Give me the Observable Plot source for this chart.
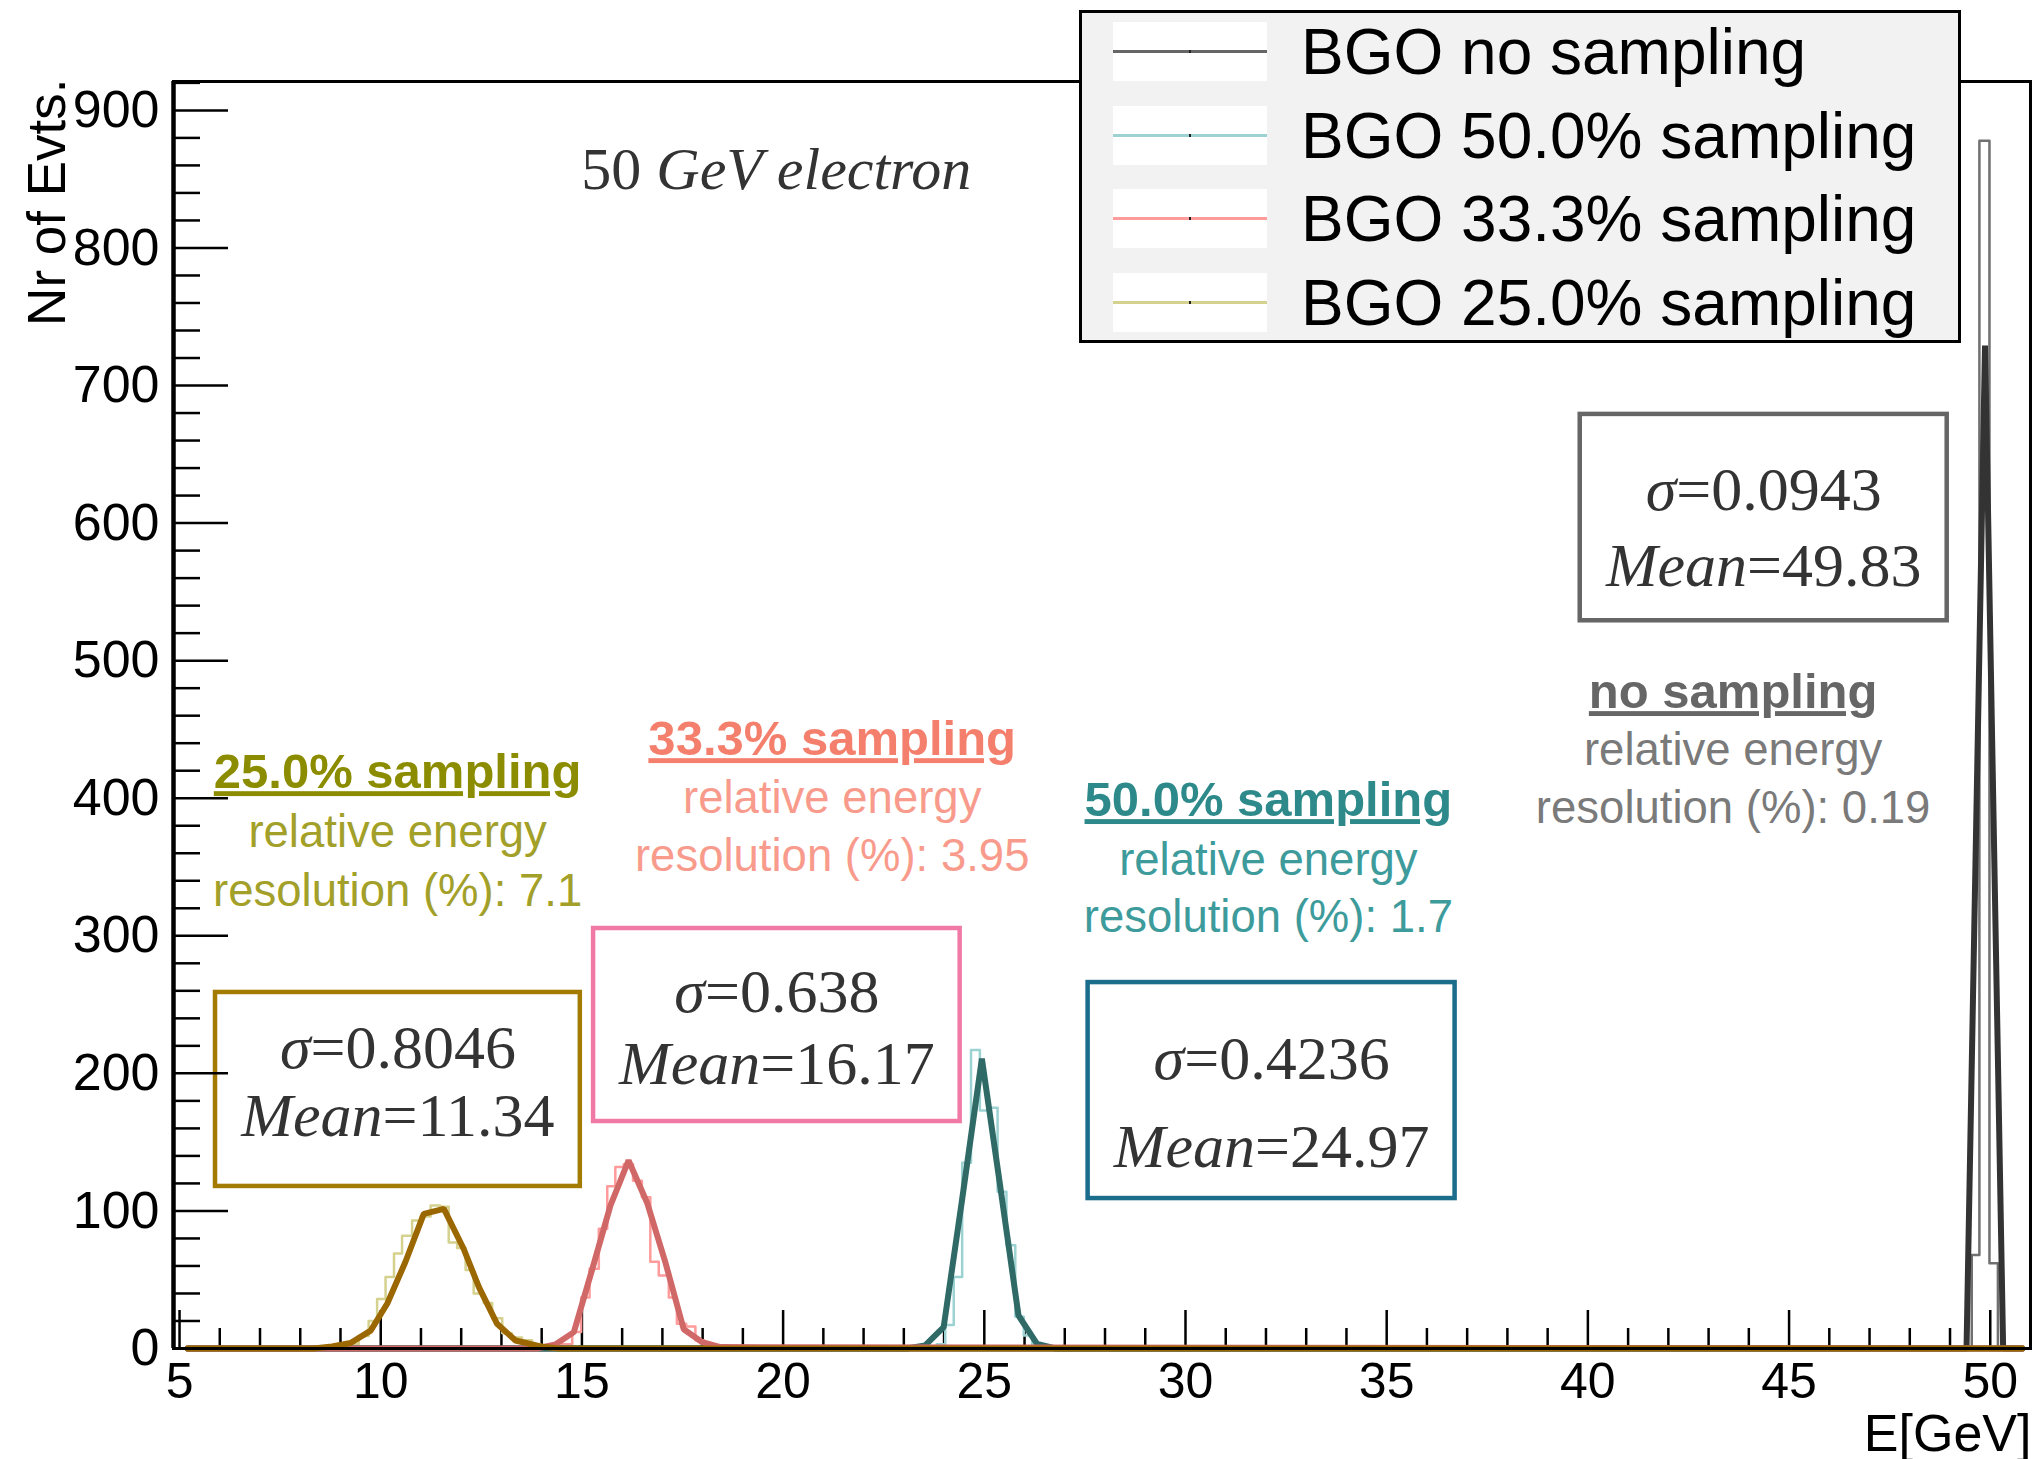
<!DOCTYPE html>
<html>
<head>
<meta charset="utf-8">
<script src="https://cdn.jsdelivr.net/npm/d3@7"></script>
<script src="https://cdn.jsdelivr.net/npm/@observablehq/plot@0.6"></script>
<style>
  html, body { margin: 0; padding: 0; background: #fff; }
  #wrap { position: relative; width: 2039px; height: 1459px; }
  .ul text { text-decoration: underline; }
  #legend { position: absolute; left: 1079px; top: 10px; width: 876px; height: 327px;
    border: 3px solid #000; background: #f2f2f2; font-family: "Liberation Sans", Arial, sans-serif; }
  .lrow { position: absolute; left: 0; width: 100%; }
  .lsample { position: absolute; left: 31px; width: 154px; height: 59px; background: #fff; }
  .lline { position: absolute; left: 0; width: 100%; top: 28px; height: 3px; }
  .ldot { position: absolute; left: 76px; top: 28px; width: 2px; height: 3px; background: #222; }
  .ltext { position: absolute; left: 219px; font-size: 64px; line-height: 60px; color: #000; white-space: nowrap; }
</style>
</head>
<body>
<div id="wrap"></div>
<script>
// ---------------- data ----------------
// axis ticks
const xTicks = [5, 10, 15, 20, 25, 30, 35, 40, 45, 50];
const yTicks = [0, 100, 200, 300, 400, 500, 600, 700, 800, 900];

// series names / legend
const seriesNames = ["BGO no sampling", "BGO 50.0% sampling", "BGO 33.3% sampling", "BGO 25.0% sampling"];

// thin step histograms (bin edges + counts)
const greyEdges = [49.54, 49.73, 49.98, 50.19];
const greyCounts = [68, 878, 62];

const tealEdges = [23.82, 24.03, 24.24, 24.45, 24.67, 24.89, 25.11, 25.33, 25.55, 25.77, 25.98, 26.19, 26.40];
const tealCounts = [3, 17, 52, 135, 217, 173, 175, 114, 75, 23, 9.5, 2];

const pinkEdges = [14.50, 14.76, 14.98, 15.19, 15.42, 15.63, 15.83, 16.04, 16.27, 16.49, 16.70, 16.91, 17.16, 17.36, 17.59, 17.82, 18.03, 18.23];
const pinkCounts = [3, 12, 37, 58, 87, 118, 132, 134, 122, 110, 63, 53, 37, 18, 16, 6, 2];

const yelEdges = [9.00, 9.23, 9.455, 9.70, 9.91, 10.12, 10.33, 10.53, 10.78, 10.99, 11.24, 11.48, 11.69, 11.90, 12.11, 12.31, 12.56, 12.77, 13.02, 13.26, 13.51, 13.76, 13.97];
const yelCounts = [1, 3, 9, 20, 36, 52, 69, 82, 93, 96, 104, 103, 77, 73, 57, 40, 33, 22, 11, 8, 6, 3];

// thick poly-lines (bin centres + values)
const blackX = [5.2, 48.95, 49.41, 49.87, 50.32, 50.8];
const blackY = [0, 0, 0, 729, 0, 0];

const tealLineX = [5.2, 23.07, 23.53, 23.99, 24.445, 24.94, 25.40, 25.85, 26.31, 26.77, 50.8];
const tealLineY = [0, 0, 2.2, 15.5, 107.6, 210.6, 117, 24, 3.4, 0, 0];

const redLineX = [5.2, 13.88, 14.34, 14.80, 15.25, 15.71, 16.16, 16.62, 17.08, 17.53, 17.99, 18.44, 50.8];
const redLineY = [0, 0, 2.9, 11.9, 57, 104, 136.7, 106, 62, 14, 4.6, 1, 0];

const goldLineX = [5.2, 8.33, 8.79, 9.25, 9.75, 10.16, 10.61, 11.07, 11.57, 12.06, 12.44, 12.89, 13.35, 13.97, 14.43, 50.8];
const goldLineY = [0, 0, 1.5, 4, 13, 32.5, 62.7, 97.9, 101.5, 72.5, 44.6, 18, 5.8, 1.5, 0, 0];

// fit results
const sigmaText = ["σ=0.0943", "σ=0.4236", "σ=0.638", "σ=0.8046"];
const meanText = ["Mean=49.83", "Mean=24.97", "Mean=16.17", "Mean=11.34"];
const samplingTitle = ["no sampling", "50.0% sampling", "33.3% sampling", "25.0% sampling"];
const resolutionText = ["resolution (%): 0.19", "resolution (%): 1.7", "resolution (%): 3.95", "resolution (%): 7.1"];

// ---------------- styling / layout ----------------
const thinColors = ["#707070", "#9dd2d2", "#ff9b9b", "#d5d18e"];
const thickColors = ["#333333", "#2f6a66", "#d16868", "#9a6700"];
const boxColors = ["#666666", "#1a6d8b", "#f07aa5", "#a37b00"];
const titleColors = ["#666666", "#2e8a8a", "#f47f6c", "#8c8c00"];
const noteColors = ["#7a7a7a", "#3d9b9b", "#f99b8c", "#a3a02a"];
const legendColors = ["#666666", "#9dd2d2", "#ff9b9b", "#d5d18e"];

// annotation placement (data units)
const boxes = [
  {x1: 39.81, x2: 48.93, y1: 529, y2: 679, sy: 623.7, my: 568.5},
  {x1: 27.58, x2: 36.70, y1: 109, y2: 266, sy: 210, my: 146},
  {x1: 15.29, x2: 24.40, y1: 165, y2: 305.3, sy: 258.8, my: 206.5},
  {x1: 5.894, x2: 14.96, y1: 117.8, y2: 258.8, sy: 218, my: 168.7}
];
const notePos = [
  {x: 43.61, y: [476.9, 434.7, 392.6]},
  {x: 32.06, y: [398.4, 354.8, 313.3]},
  {x: 21.22, y: [442.7, 399.8, 357.7]},
  {x: 10.42, y: [418.7, 375, 332]}
];

const W = 2039, H = 1459;
const mL = 173, mR = 9, mT = 81, mB = 111;
const xDomain = [4.85, 51];
const yDomain = [0, 921];
const frameW = W - mL - mR, frameH = H - mT - mB;

function stepPoints(edges, counts) {
  const pts = [{x: xDomain[0] + 0.15, y: 0}];
  counts.forEach((c, i) => pts.push({x: edges[i], y: c}));
  pts.push({x: edges[edges.length - 1], y: 0});
  pts.push({x: 50.97, y: 0});
  return pts;
}
function linePoints(xs, ys) { return xs.map((x, i) => ({x, y: ys[i]})); }

const thin = [
  stepPoints(greyEdges, greyCounts),
  stepPoints(tealEdges, tealCounts),
  stepPoints(pinkEdges, pinkCounts),
  stepPoints(yelEdges, yelCounts)
];
const thick = [
  linePoints(blackX, blackY),
  linePoints(tealLineX, tealLineY),
  linePoints(redLineX, redLineY),
  linePoints(goldLineX, goldLineY)
];

const minorY = d3.range(0, 921, 20).filter(v => v % 100 !== 0);
const minorX = d3.range(5, 51.01, 1).filter(v => v % 5 !== 0);

const serif = "'Liberation Serif', 'Times New Roman', serif";
const sans = "'Liberation Sans', Arial, sans-serif";

const marks = [];
// annotation boxes
boxes.forEach((b, i) => {
  marks.push(Plot.rect([b], {x1: "x1", x2: "x2", y1: "y1", y2: "y2", fill: "white", stroke: boxColors[i], strokeWidth: 4.5}));
  marks.push(Plot.text([sigmaText[i]], {x: (b.x1 + b.x2) / 2, y: b.sy, text: d => d, fontSize: 62, fontFamily: serif, fill: "#333", className: "latex"}));
  marks.push(Plot.text([meanText[i]], {x: (b.x1 + b.x2) / 2, y: b.my, text: d => d, fontSize: 62, fontFamily: serif, fill: "#333", className: "latex"}));
});
// title text
marks.push(Plot.text(["50 GeV electron"], {x: 19.83, y: 857, text: d => d, fontSize: 60, fontFamily: serif, fill: "#333", className: "latex"}));
// sampling notes
notePos.forEach((p, i) => {
  marks.push(Plot.text([samplingTitle[i]], {x: p.x, y: p.y[0], text: d => d, fontSize: 49, fontWeight: "bold", fontFamily: sans, fill: titleColors[i], className: "ul"}));
  marks.push(Plot.text(["relative energy"], {x: p.x, y: p.y[1], text: d => d, fontSize: 45.5, fontFamily: sans, fill: noteColors[i]}));
  marks.push(Plot.text([resolutionText[i]], {x: p.x, y: p.y[2], text: d => d, fontSize: 45.5, fontFamily: sans, fill: noteColors[i]}));
});
// ticks
marks.push(Plot.tickY(yTicks, {y: d => d, insetRight: frameW - 55, stroke: "black", strokeWidth: 2.5}));
marks.push(Plot.tickY(minorY, {y: d => d, insetRight: frameW - 27, stroke: "black", strokeWidth: 2.5}));
marks.push(Plot.tickX(xTicks, {x: d => d, insetTop: frameH - 38, stroke: "black", strokeWidth: 2.5}));
marks.push(Plot.tickX(minorX, {x: d => d, insetTop: frameH - 20, stroke: "black", strokeWidth: 2.5}));
// histograms
thin.forEach((pts, i) => marks.push(Plot.line(pts, {x: "x", y: "y", curve: "step-after", stroke: thinColors[i], strokeWidth: 2.5})));
thick.forEach((pts, i) => marks.push(Plot.line(pts, {x: "x", y: "y", stroke: thickColors[i], strokeWidth: 6, strokeLinejoin: "miter"})));
// frame & axes
marks.push(Plot.frame({stroke: "black", strokeWidth: 3}));
marks.push(Plot.ruleX([xDomain[0]], {stroke: "black", strokeWidth: 4.5}));
marks.push(Plot.axisY({ticks: yTicks, tickSize: 0, tickPadding: 14, fontSize: 52, tickFormat: d => String(d), label: null}));
marks.push(Plot.axisX({ticks: xTicks, tickSize: 0, tickPadding: 14, fontSize: 50, tickFormat: d => String(d), label: null}));
marks.push(Plot.text(["Nr of Evts."], {frameAnchor: "top-left", dx: -146, dy: -3, rotate: -90, textAnchor: "end", fontSize: 53, fontFamily: sans, fill: "black"}));
marks.push(Plot.text(["E[GeV]"], {frameAnchor: "bottom-right", dx: 1, dy: 102, textAnchor: "end", fontSize: 52, fontFamily: sans, fill: "black"}));

const chart = Plot.plot({
  width: W, height: H,
  marginLeft: mL, marginRight: mR, marginTop: mT, marginBottom: mB,
  x: {domain: xDomain},
  y: {domain: yDomain},
  style: {fontFamily: sans, background: "white", color: "black", overflow: "visible"},
  marks
});

// mixed italic / upright for LaTeX-like labels
chart.querySelectorAll("g.latex text").forEach(el => {
  const t = el.textContent;
  let parts;
  if (t.startsWith("50 ")) parts = [["50 ", false], [t.slice(3), true]];
  else { const k = t.indexOf("="); parts = [[t.slice(0, k), true], [t.slice(k), false]]; }
  while (el.firstChild) el.removeChild(el.firstChild);
  parts.forEach(([s, it]) => {
    const ts = document.createElementNS("http://www.w3.org/2000/svg", "tspan");
    ts.textContent = s;
    if (it) ts.setAttribute("font-style", "italic");
    el.appendChild(ts);
  });
});

const wrap = document.getElementById("wrap");
wrap.appendChild(chart);

// legend
const legend = document.createElement("div");
legend.id = "legend";
const rowCenters = [39, 123, 206, 290];
seriesNames.forEach((name, i) => {
  const row = document.createElement("div");
  row.className = "lrow";
  row.style.top = (rowCenters[i] - 30) + "px";
  row.innerHTML = `<div class="lsample"><div class="lline" style="background:${legendColors[i]}"></div><div class="ldot"></div></div>
    <div class="ltext" style="top:0px">${name}</div>`;
  legend.appendChild(row);
});
wrap.appendChild(legend);
</script>
</body>
</html>
